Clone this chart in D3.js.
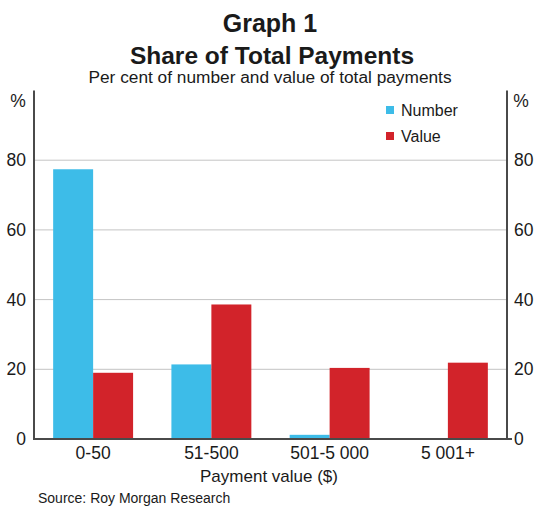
<!DOCTYPE html>
<html>
<head>
<meta charset="utf-8">
<script src="https://cdn.jsdelivr.net/npm/d3@7"></script>
<style>
  body { margin: 0; background: #fff; }
  text { font-family: "Liberation Sans", Arial, sans-serif; fill: #1a1a1a; }
</style>
</head>
<body>
<script>
// data
var categories = ["0-50", "51-500", "501-5 000", "5 001+"];
var seriesNames = ["Number", "Value"];
var numberShare = [77.4, 21.4, 1.2, 0.2];
var valueShare = [19.0, 38.6, 20.4, 21.9];
var yTicks = [0, 20, 40, 60, 80];
var colors = ["#3dbce8", "#d2232a"];

var W = 534, H = 507;
var margin = { top: 90.5, right: 27, bottom: 68, left: 34 },
    width = W - margin.left - margin.right,
    height = H - margin.top - margin.bottom;

var svg = d3.select("body").append("svg")
    .attr("width", W)
    .attr("height", H);

// titles
svg.append("text").attr("x", 270).attr("y", 32)
    .attr("text-anchor", "middle").style("font-size", "25px").style("font-weight", "bold")
    .text("Graph 1");
svg.append("text").attr("x", 272).attr("y", 64)
    .attr("text-anchor", "middle").style("font-size", "24.5px").style("font-weight", "bold")
    .text("Share of Total Payments");
svg.append("text").attr("x", 270).attr("y", 83)
    .attr("text-anchor", "middle").style("font-size", "17.3px")
    .text("Per cent of number and value of total payments");

var g = svg.append("g")
    .attr("transform", "translate(" + margin.left + "," + margin.top + ")");

var x = d3.scaleBand().domain(categories).range([0, width]).paddingInner(0.324).paddingOuter(0.162);
var xs = d3.scaleBand().domain(seriesNames).range([0, x.bandwidth()]);
var y = d3.scaleLinear().domain([0, 100]).range([height, 0]);

// gridlines
g.selectAll(".grid").data(yTicks.filter(function (d) { return d > 0; }))
    .enter().append("line")
    .attr("x1", 0).attr("x2", width)
    .attr("y1", function (d) { return y(d); }).attr("y2", function (d) { return y(d); })
    .attr("stroke", "#c4c4c4").attr("stroke-width", 1);

// bars
var rows = categories.map(function (c, i) {
    return { cat: c, vals: [numberShare[i], valueShare[i]] };
});
var groups = g.selectAll(".grp").data(rows).enter().append("g")
    .attr("transform", function (d) { return "translate(" + x(d.cat) + ",0)"; });
groups.selectAll("rect").data(function (d) {
    return d.vals.map(function (v, j) { return { name: seriesNames[j], v: v, j: j }; });
}).enter().append("rect")
    .attr("x", function (d) { return xs(d.name); })
    .attr("width", xs.bandwidth())
    .attr("y", function (d) { return y(d.v); })
    .attr("height", function (d) { return height - y(d.v); })
    .attr("fill", function (d) { return colors[d.j]; });

// axes frame (left, right, bottom)
var axisColor = "#4a4a4a";
g.append("line").attr("x1", 0).attr("x2", 0).attr("y1", 0).attr("y2", height)
    .attr("stroke", axisColor).attr("stroke-width", 2);
g.append("line").attr("x1", width).attr("x2", width).attr("y1", 0).attr("y2", height)
    .attr("stroke", axisColor).attr("stroke-width", 2);
g.append("line").attr("x1", -1).attr("x2", width + 5).attr("y1", height).attr("y2", height)
    .attr("stroke", axisColor).attr("stroke-width", 2);

// y tick labels both sides
var yl = d3.axisLeft(y).tickValues(yTicks).tickSize(0).tickPadding(8);
var yr = d3.axisRight(y).tickValues(yTicks).tickSize(0).tickPadding(7);
var gl = g.append("g").call(yl);
var gr = g.append("g").attr("transform", "translate(" + width + ",0)").call(yr);
[gl, gr].forEach(function (a) {
    a.select(".domain").remove();
    a.selectAll("text").style("font-size", "17.5px").attr("fill", "#1a1a1a")
        .style("font-family", "Liberation Sans, Arial, sans-serif");
});

svg.append("text").attr("x", 18).attr("y", 107).attr("text-anchor", "middle")
    .style("font-size", "17.5px").text("%");
svg.append("text").attr("x", 521).attr("y", 107).attr("text-anchor", "middle")
    .style("font-size", "17.5px").text("%");

// x axis labels
var xa = g.append("g").attr("transform", "translate(0," + height + ")")
    .call(d3.axisBottom(x).tickSize(0).tickPadding(8));
xa.select(".domain").remove();
xa.selectAll("text").style("font-size", "17.5px").attr("fill", "#1a1a1a")
    .style("font-family", "Liberation Sans, Arial, sans-serif");

svg.append("text").attr("x", 269).attr("y", 482).attr("text-anchor", "middle")
    .style("font-size", "17px").text("Payment value ($)");

svg.append("text").attr("x", 38).attr("y", 503)
    .style("font-size", "14px").text("Source: Roy Morgan Research");

// legend
var leg = svg.append("g").attr("transform", "translate(386,106)");
seriesNames.forEach(function (n, i) {
    leg.append("rect").attr("x", 0).attr("y", i * 26).attr("width", 8).attr("height", 8)
        .attr("fill", colors[i]);
    leg.append("text").attr("x", 15).attr("y", i * 26 + 10)
        .style("font-size", "16px").text(n);
});
</script>
</body>
</html>
